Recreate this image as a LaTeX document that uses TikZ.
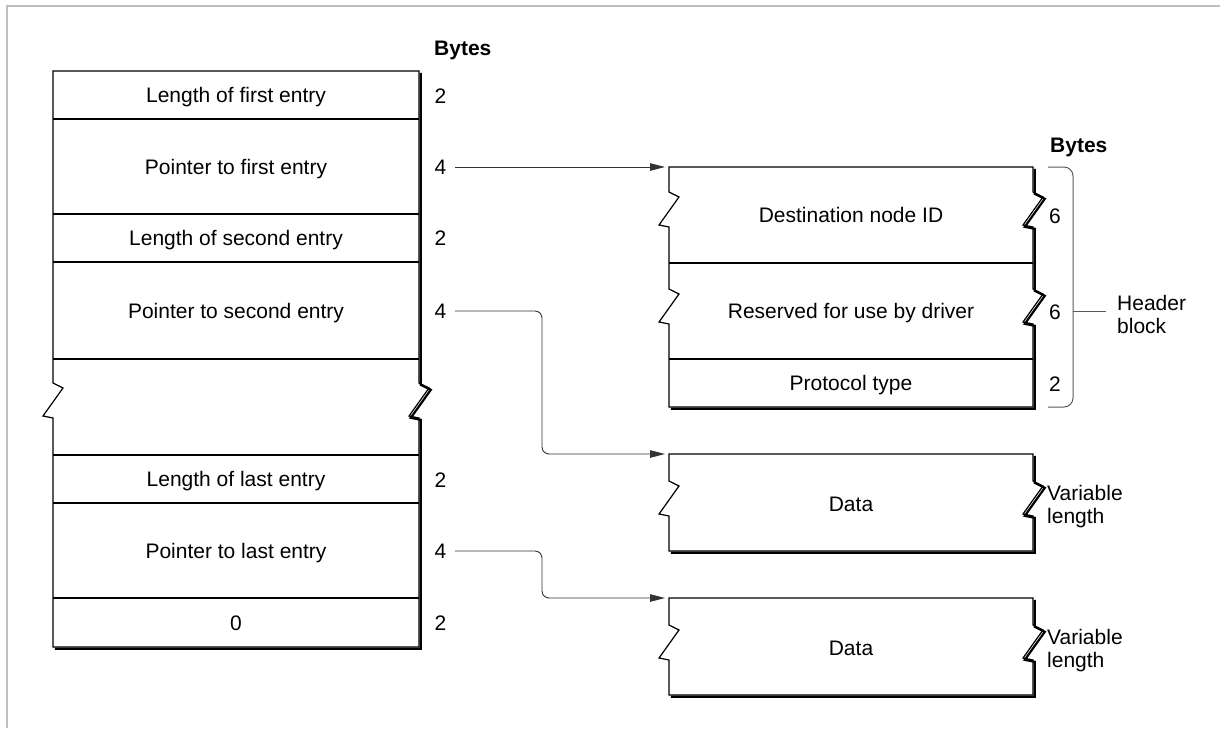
\documentclass[tikz,border=0pt]{standalone}
\usepackage{fontspec}
\setmainfont{Liberation Sans}
\usetikzlibrary{arrows.meta}
\begin{document}
\begin{tikzpicture}[x=1pt,y=-1pt,
  box/.style={line width=1.2pt, line join=miter},
  shadowline/.style={line width=2.2pt},
  conn/.style={draw=black!80, line width=0.9pt, -{Triangle[length=15pt,width=7.5pt]}},
  lbl/.style={inner sep=0pt, font=\fontsize{21}{24}\selectfont, text height=15pt, text depth=0pt},
  num/.style={lbl, minimum width=29pt},
  hd/.style={inner sep=0pt, font=\fontsize{21}{24}\selectfont\bfseries, anchor=west, text height=15pt, text depth=0pt},
  side/.style={inner ysep=0pt, inner xsep=0pt, font=\fontsize{21}{23}\selectfont, align=left, anchor=base west},
  bracest/.style={draw=black!65, line width=1pt}
]
\useasboundingbox (0,0) rectangle (1220,728);
\draw[color=black!25, line width=2pt] (7,728) -- (7,6) -- (1220,6);

% ---------- left table ----------
\draw[box] (53,71) -- (419,71) -- (419,383) -- (429,388) -- (409,416) -- (419,418) -- (419,647)
  -- (53,647) -- (53,418) -- (43,416) -- (63,388) -- (53,383) -- cycle;
\foreach \yy in {119,214,262,359,455,503,598} \draw[box] (53,\yy) -- (419,\yy);
\draw[shadowline, shift={(1.8,1.8)}] (419,71) -- (419,383) -- (429,388) -- (409,416) -- (419,418) -- (419,647) -- (53,647);

\node[lbl] (r1) at (236,95) {Length of first entry};
\node[lbl] (r2) at (236,167) {Pointer to first entry};
\node[lbl] (r3) at (236,238) {Length of second entry};
\node[lbl] (r4) at (236,311) {Pointer to second entry};
\node[lbl] (r5) at (236,479) {Length of last entry};
\node[lbl] (r6) at (236,551) {Pointer to last entry};
\node[lbl] (r7) at (236,623) {0};

\node[hd] (bytesL) at (434,48) {Bytes};
\node[num] (b1) at (440.5,96) {2};
\node[num] (n4a) at (440.5,167) {4};
\node[num] (b3) at (440.5,238) {2};
\node[num] (n4b) at (440.5,311) {4};
\node[num] (b5) at (440.5,480) {2};
\node[num] (n4c) at (440.5,551) {4};
\node[num] (b7) at (440.5,623) {2};

% ---------- header block ----------
\draw[box] (669,167) -- (1033,167) -- (1033,192) -- (1043,197) -- (1023,225) -- (1033,227)
  -- (1033,289) -- (1043,294) -- (1023,322) -- (1033,324) -- (1033,407) -- (669,407)
  -- (669,324) -- (659,322) -- (679,294) -- (669,289) -- (669,227) -- (659,225) -- (679,197) -- (669,192) -- cycle;
\draw[box] (669,263) -- (1033,263);
\draw[box] (669,359) -- (1033,359);
\draw[shadowline, shift={(1.8,1.8)}] (1033,167) -- (1033,192) -- (1043,197) -- (1023,225) -- (1033,227)
  -- (1033,289) -- (1043,294) -- (1023,322) -- (1033,324) -- (1033,407) -- (669,407);

\node[lbl] (dest) at (851,215) {Destination node ID};
\node[lbl] (resv) at (851,311) {Reserved for use by driver};
\node[lbl] (proto) at (851,383) {Protocol type};
\node[hd] (bytesR) at (1050,145) {Bytes};
\node[lbl] (h1) at (1055,216) {6};
\node[lbl] (h2) at (1055,312) {6};
\node[lbl] (h3) at (1055,384) {2};

\draw[bracest, rounded corners=9pt] (1048,167) -- (1073,167) -- (1073,407) -- (1048,407);
\coordinate (bracemid) at (1073,311);
\node[side, inner xsep=11pt] (hdrlbl) at (1106,333) {Header\\block};
\draw[bracest] (bracemid) -- (hdrlbl.west |- bracemid);

% ---------- data boxes ----------
\draw[box] (669,454) -- (1033,454) -- (1033,481) -- (1043,486) -- (1023,514) -- (1033,516) -- (1033,551)
  -- (669,551) -- (669,516) -- (659,514) -- (679,486) -- (669,481) -- cycle;
\draw[shadowline, shift={(1.8,1.8)}] (1033,454) -- (1033,481) -- (1043,486) -- (1023,514) -- (1033,516) -- (1033,551) -- (669,551);
\node[lbl] (data1) at (851,504) {Data};
\node[side] (var1) at (1047,523) {Variable\\length};

\draw[box] (669,598) -- (1033,598) -- (1033,625) -- (1043,630) -- (1023,658) -- (1033,660) -- (1033,695)
  -- (669,695) -- (669,660) -- (659,658) -- (679,630) -- (669,625) -- cycle;
\draw[shadowline, shift={(1.8,1.8)}] (1033,598) -- (1033,625) -- (1043,630) -- (1023,658) -- (1033,660) -- (1033,695) -- (669,695);
\node[lbl] (data2) at (851,648) {Data};
\node[side] (var2) at (1047,667) {Variable\\length};

% ---------- connectors ----------
\coordinate (hdrin) at (665,167);
\coordinate (d1in) at (665,454);
\coordinate (d2in) at (665,598);
\coordinate (bend1) at (542,454);
\coordinate (bend2) at (542,598);
\draw[conn] (n4a.east) -- (hdrin);
\draw[conn, rounded corners=7pt] (n4b.east) -| (bend1) -- (d1in);
\draw[conn, rounded corners=7pt] (n4c.east) -| (bend2) -- (d2in);
\end{tikzpicture}
\end{document}
